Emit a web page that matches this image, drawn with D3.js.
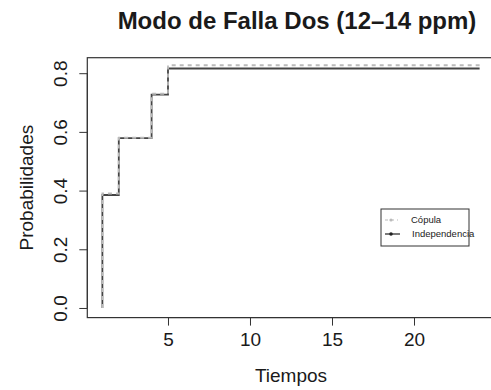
<!DOCTYPE html>
<html lang="es">
<head>
<meta charset="utf-8">
<script src="https://d3js.org/d3.v7.min.js"></script>
<style type="text/css">
body {
  margin: 0;
  background-color: #ffffff;
  font-family: "Liberation Sans", Arial, sans-serif;
}
svg text { fill: #1a1a1a; }
</style>
</head>
<body>
<script type="text/javascript">

// data
var tiempos = [1, 1, 2, 4, 5, 24];
var copula = [0, 0.39, 0.58, 0.73, 0.827, 0.827];
var independencia = [0, 0.385, 0.579, 0.727, 0.816, 0.816];
var xTicks = [5, 10, 15, 20];
var yTicks = [0, 0.2, 0.4, 0.6, 0.8];
var leyenda = ["Cópula", "Independencia"];

var width = 491;
var height = 390;

var svg = d3.select("body")
  .append("svg")
  .attr("width", width)
  .attr("height", height);

// R style: data range extended 4% on each side
var x = d3.scaleLinear().domain([0.08, 24.92]).range([87.3, 494.7]);
var y = d3.scaleLinear().domain([-0.0328, 0.8528]).range([317.6, 57.7]);

// box
svg.append("rect")
  .attr("x", x.range()[0])
  .attr("y", y.range()[1])
  .attr("width", x.range()[1] - x.range()[0])
  .attr("height", y.range()[0] - y.range()[1])
  .attr("fill", "none")
  .attr("stroke", "#333")
  .attr("stroke-width", 1.2);

// x axis
var xAxis = svg.append("g")
  .attr("transform", "translate(0," + y.range()[0] + ")")
  .call(d3.axisBottom(x).tickValues(xTicks).tickSize(8).tickPadding(7).tickFormat(d3.format("d")));
xAxis.select(".domain").attr("d", "M" + x(5) + ",0H" + x(20)).attr("stroke", "#333");
xAxis.selectAll(".tick line").attr("stroke", "#333");
xAxis.selectAll(".tick text")
  .attr("font-size", 19)
  .attr("font-family", "Liberation Sans, Arial, sans-serif")
  .attr("fill", "#1a1a1a");

// y axis, labels parallel to axis
var yAxis = svg.append("g")
  .attr("transform", "translate(" + x.range()[0] + ",0)")
  .call(d3.axisLeft(y).tickValues(yTicks).tickSize(8).tickFormat(d3.format(".1f")));
yAxis.select(".domain").attr("d", "M0," + y(0) + "V" + y(0.8)).attr("stroke", "#333");
yAxis.selectAll(".tick line").attr("stroke", "#333");
yAxis.selectAll(".tick text")
  .attr("font-size", 19)
  .attr("font-family", "Liberation Sans, Arial, sans-serif")
  .attr("fill", "#1a1a1a")
  .attr("x", null).attr("dy", null)
  .attr("text-anchor", "middle")
  .attr("transform", "translate(-20,0) rotate(-90)");

// lines
var ind = tiempos.map(function(t, i) { return [t, independencia[i]]; });
var cop = tiempos.map(function(t, i) { return [t, copula[i]]; });
var line = d3.line()
  .x(function(d) { return x(d[0]); })
  .y(function(d) { return y(d[1]); })
  .curve(d3.curveStepAfter);

svg.append("path")
  .attr("d", line(ind))
  .attr("fill", "none")
  .attr("stroke", "#444")
  .attr("stroke-width", 1.8);

svg.append("path")
  .attr("d", line(cop))
  .attr("fill", "none")
  .attr("stroke", "#bbb")
  .attr("stroke-width", 1.8)
  .attr("stroke-dasharray", "4,4");

// title and axis labels
svg.append("text")
  .attr("x", 297).attr("y", 29)
  .attr("text-anchor", "middle")
  .attr("font-size", 24)
  .attr("font-weight", "bold")
  .text("Modo de Falla Dos (12\u201314 ppm)");

svg.append("text")
  .attr("x", 291).attr("y", 382)
  .attr("text-anchor", "middle")
  .attr("font-size", 19)
  .text("Tiempos");

svg.append("text")
  .attr("transform", "translate(33," + ((y.range()[0] + y.range()[1]) / 2) + ") rotate(-90)")
  .attr("text-anchor", "middle")
  .attr("font-size", 19)
  .text("Probabilidades");

// legend
var lg = svg.append("g");
lg.append("rect")
  .attr("x", 381).attr("y", 209)
  .attr("width", 88).attr("height", 37)
  .attr("fill", "#fff")
  .attr("stroke", "#333");

var lgY = [220, 234];
lg.append("line")
  .attr("x1", 385).attr("x2", 398).attr("y1", lgY[0]).attr("y2", lgY[0])
  .attr("stroke", "#bbb").attr("stroke-width", 1.2).attr("stroke-dasharray", "3,3");
lg.append("circle")
  .attr("cx", 391).attr("cy", lgY[0]).attr("r", 1.6)
  .attr("fill", "#bbb");
lg.append("line")
  .attr("x1", 385).attr("x2", 400).attr("y1", lgY[1]).attr("y2", lgY[1])
  .attr("stroke", "#222").attr("stroke-width", 1.2);
lg.append("circle")
  .attr("cx", 391).attr("cy", lgY[1]).attr("r", 1.8)
  .attr("fill", "#222");

lg.selectAll("text.leg")
  .data(leyenda)
  .enter()
  .append("text")
  .attr("class", "leg")
  .attr("x", function(d, i) { return i === 0 ? 411 : 412; })
  .attr("y", function(d, i) { return lgY[i] + 3; })
  .attr("font-size", 9.5)
  .text(function(d) { return d; });

</script>
</body>
</html>
